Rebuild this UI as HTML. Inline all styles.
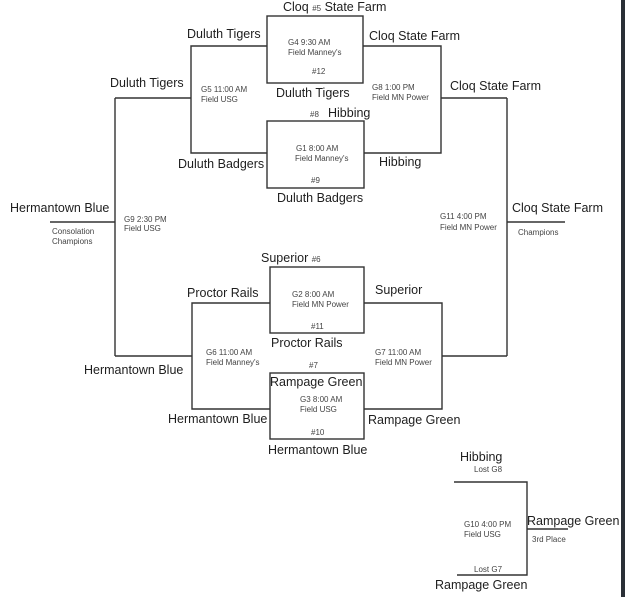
<!DOCTYPE html>
<html><head><style>
html,body{margin:0;padding:0;background:#fff;width:625px;height:597px;overflow:hidden}
svg{display:block}
.L{font-family:"Liberation Sans",sans-serif;font-size:12.5px;fill:#1e1e1e}
.S{font-family:"Liberation Sans",sans-serif;font-size:8px;fill:#444}
</style></head><body>
<svg width="625" height="597" viewBox="0 0 625 597">
<g stroke="#333" stroke-width="1.4" fill="none">
<rect x="267" y="16" width="96" height="67"/>
<rect x="267" y="121" width="97" height="67"/>
<rect x="270" y="267" width="94" height="66"/>
<rect x="270" y="373" width="94" height="66"/>
<polyline points="267,46 191,46 191,153 267,153"/>
<polyline points="363,46 441,46 441,153 364,153"/>
<line x1="191" y1="98" x2="115" y2="98"/>
<line x1="441" y1="98" x2="507" y2="98"/>
<polyline points="270,303 192,303 192,409 270,409"/>
<polyline points="364,303 442,303 442,409 364,409"/>
<line x1="192" y1="356" x2="115" y2="356"/>
<line x1="442" y1="356" x2="507" y2="356"/>
<line x1="115" y1="98" x2="115" y2="356"/>
<line x1="507" y1="98" x2="507" y2="356"/>
<line x1="50" y1="222" x2="115" y2="222"/>
<line x1="507" y1="222" x2="565" y2="222"/>
<polyline points="454,482 527,482 527,575 457,575"/>
<line x1="527" y1="529" x2="568" y2="529"/>
</g>
<rect x="621" y="0" width="4" height="597" fill="#2a2f36"/>
<text class="L" x="283" y="11">Cloq <tspan class="S">#5</tspan> State Farm</text>
<text class="L" x="187" y="38">Duluth Tigers</text>
<text class="S" x="288" y="45">G4  9:30 AM</text>
<text class="S" x="288" y="55">Field Manney's</text>
<text class="S" x="312" y="74">#12</text>
<text class="L" x="369" y="40">Cloq State Farm</text>
<text class="L" x="110" y="87">Duluth Tigers</text>
<text class="S" x="201" y="92">G5  11:00 AM</text>
<text class="S" x="201" y="102">Field USG</text>
<text class="L" x="276" y="97">Duluth Tigers</text>
<text class="S" x="372" y="90">G8  1:00 PM</text>
<text class="S" x="372" y="100">Field MN Power</text>
<text class="L" x="450" y="90">Cloq State Farm</text>
<text class="S" x="310" y="117">#8</text>
<text class="L" x="328" y="117">Hibbing</text>
<text class="S" x="296" y="151">G1  8:00 AM</text>
<text class="S" x="295" y="161">Field Manney's</text>
<text class="S" x="311" y="183">#9</text>
<text class="L" x="178" y="168">Duluth Badgers</text>
<text class="L" x="379" y="166">Hibbing</text>
<text class="L" x="277" y="202">Duluth Badgers</text>
<text class="L" x="10" y="212">Hermantown Blue</text>
<text class="S" x="52" y="234">Consolation</text>
<text class="S" x="52" y="244">Champions</text>
<text class="S" x="124" y="222">G9 2:30 PM</text>
<text class="S" x="124" y="231">Field USG</text>
<text class="S" x="440" y="219">G11 4:00 PM</text>
<text class="S" x="440" y="230">Field MN Power</text>
<text class="L" x="512" y="212">Cloq State Farm</text>
<text class="S" x="518" y="235">Champions</text>
<text class="L" x="261" y="262">Superior <tspan class="S">#6</tspan></text>
<text class="L" x="187" y="297">Proctor Rails</text>
<text class="S" x="292" y="297">G2  8:00 AM</text>
<text class="S" x="292" y="307">Field MN Power</text>
<text class="S" x="311" y="329">#11</text>
<text class="L" x="375" y="294">Superior</text>
<text class="L" x="271" y="347">Proctor Rails</text>
<text class="S" x="309" y="368">#7</text>
<text class="S" x="206" y="355">G6  11:00 AM</text>
<text class="S" x="206" y="365">Field Manney's</text>
<text class="S" x="375" y="355">G7  11:00 AM</text>
<text class="S" x="375" y="365">Field MN Power</text>
<text class="L" x="84" y="374">Hermantown Blue</text>
<text class="L" x="270" y="386">Rampage Green</text>
<text class="S" x="300" y="402">G3  8:00 AM</text>
<text class="S" x="300" y="412">Field USG</text>
<text class="S" x="311" y="435">#10</text>
<text class="L" x="168" y="423">Hermantown Blue</text>
<text class="L" x="368" y="424">Rampage Green</text>
<text class="L" x="268" y="454">Hermantown Blue</text>
<text class="L" x="460" y="461">Hibbing</text>
<text class="S" x="474" y="472">Lost G8</text>
<text class="S" x="464" y="527">G10 4:00 PM</text>
<text class="S" x="464" y="537">Field USG</text>
<text class="L" x="527" y="525">Rampage Green</text>
<text class="S" x="532" y="542">3rd Place</text>
<text class="S" x="474" y="572">Lost G7</text>
<text class="L" x="435" y="589">Rampage Green</text>
</svg>
</body></html>
